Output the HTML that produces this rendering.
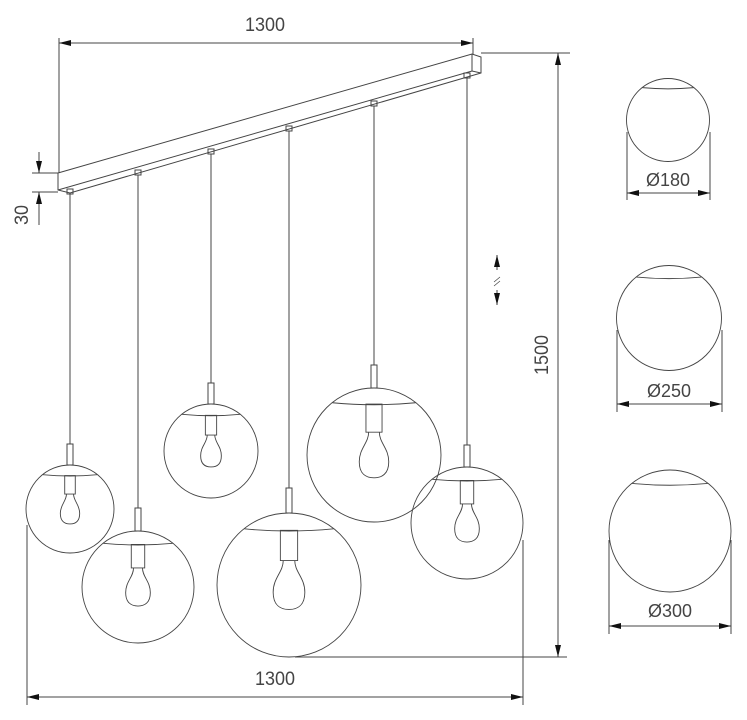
<!DOCTYPE html>
<html><head><style>
html,body{margin:0;padding:0;background:#fff;}
svg{display:block;}
text{font-family:"Liberation Sans",sans-serif;fill:#444;}
</style></head><body>
<svg width="747" height="720" viewBox="0 0 747 720" xmlns="http://www.w3.org/2000/svg">
<defs>
<g id="pend" fill="none" stroke="#444" stroke-width="0.9">
  <circle r="50" vector-effect="non-scaling-stroke"/>
  <path d="M-31,-39 Q0,-36 31,-39" vector-effect="non-scaling-stroke"/>
  <rect x="-6" y="-38" width="12" height="21" vector-effect="non-scaling-stroke"/>
  <path d="M-4,-17 C-4,-9 -11,-5 -11,5 C-11,14 -6,17 0,17 C6,17 11,14 11,5 C11,-5 4,-9 4,-17" vector-effect="non-scaling-stroke"/>
</g>
<g id="ball" fill="none" stroke="#444" stroke-width="0.9">
  <circle r="50" vector-effect="non-scaling-stroke"/>
  <path d="M-31,-39 Q0,-36 31,-39" vector-effect="non-scaling-stroke"/>
</g>
<marker id="ar" viewBox="0 0 12 6" refX="12" refY="3" markerWidth="12" markerHeight="6" markerUnits="userSpaceOnUse" orient="auto-start-reverse">
  <path d="M0,0 L12,3 L0,6 Z" fill="#111"/>
</marker>
</defs>

<g stroke="#444" stroke-width="1" fill="none">
<path d="M58,173 L472,54 L481,57 L481,73 L70,193 L58,190 Z"/>
<path d="M58,190 L472,71 L481,73"/>
<path d="M472,54 L472,71"/>
<rect x="67" y="189" width="6" height="5"/>
<rect x="135" y="170" width="6" height="5"/>
<rect x="208" y="149" width="6" height="5"/>
<rect x="286" y="126" width="6" height="5"/>
<rect x="371" y="101" width="6" height="5"/>
<rect x="464" y="73" width="6" height="5"/>
<path d="M70,194V444 M138,175V508 M211,154V383 M289,131V488 M374,106V365 M467,78V445"/>
<rect x="67" y="444" width="6" height="21"/>
<rect x="135" y="508" width="6" height="23"/>
<rect x="208" y="383" width="6" height="21"/>
<rect x="286" y="488" width="6" height="25"/>
<rect x="371" y="365" width="6" height="23"/>
<rect x="464" y="445" width="6" height="22"/>
</g>

<use href="#pend" transform="translate(70,509) scale(0.88)"/>
<use href="#pend" transform="translate(138,587) scale(1.12)"/>
<use href="#pend" transform="translate(211,451) scale(0.94)"/>
<use href="#pend" transform="translate(289,585) scale(1.44)"/>
<use href="#pend" transform="translate(374,455) scale(1.34)"/>
<use href="#pend" transform="translate(467,523) scale(1.12)"/>

<use href="#ball" transform="translate(668,120) scale(0.83)"/>
<use href="#ball" transform="translate(669,318) scale(1.05)"/>
<use href="#ball" transform="translate(670,531) scale(1.22)"/>

<g stroke="#444" stroke-width="1" fill="none">
<path d="M59,38V173 M473,38V54"/>
<path d="M59,43H473" marker-start="url(#ar)" marker-end="url(#ar)"/>
<path d="M481,53H570 M295,657H567"/>
<path d="M558,53V657" marker-start="url(#ar)" marker-end="url(#ar)"/>
<path d="M27,525V705 M523,540V705"/>
<path d="M27,697H523" marker-start="url(#ar)" marker-end="url(#ar)"/>
<path d="M32,173H58 M32,192H58"/>
<path d="M39,152V173" marker-end="url(#ar)"/>
<path d="M39,225V192" marker-end="url(#ar)"/>
<path d="M497,255V270" marker-start="url(#ar)"/>
<path d="M497,290V305" marker-end="url(#ar)"/>
<path d="M494,282L500,277 M494,286L500,281" stroke-width="0.7"/>
<path d="M627,132V200 M710,132V200"/>
<path d="M627,193H710" marker-start="url(#ar)" marker-end="url(#ar)"/>
<path d="M617,330V412 M722,330V412"/>
<path d="M617,404H722" marker-start="url(#ar)" marker-end="url(#ar)"/>
<path d="M609,540V634 M731,540V634"/>
<path d="M609,626H731" marker-start="url(#ar)" marker-end="url(#ar)"/>
</g>

<text x="265" y="31" font-size="19" text-anchor="middle" textLength="40" lengthAdjust="spacingAndGlyphs">1300</text>
<text x="275" y="685" font-size="19" text-anchor="middle" textLength="40" lengthAdjust="spacingAndGlyphs">1300</text>
<text transform="translate(548,355) rotate(-90)" font-size="19" text-anchor="middle" textLength="40" lengthAdjust="spacingAndGlyphs">1500</text>
<text transform="translate(28,215) rotate(-90)" font-size="19" text-anchor="middle" textLength="20" lengthAdjust="spacingAndGlyphs">30</text>
<text x="668" y="186" font-size="18" text-anchor="middle" textLength="44" lengthAdjust="spacingAndGlyphs">Ø180</text>
<text x="669" y="397" font-size="18" text-anchor="middle" textLength="44" lengthAdjust="spacingAndGlyphs">Ø250</text>
<text x="670" y="617" font-size="18" text-anchor="middle" textLength="44" lengthAdjust="spacingAndGlyphs">Ø300</text>
</svg>
</body></html>
